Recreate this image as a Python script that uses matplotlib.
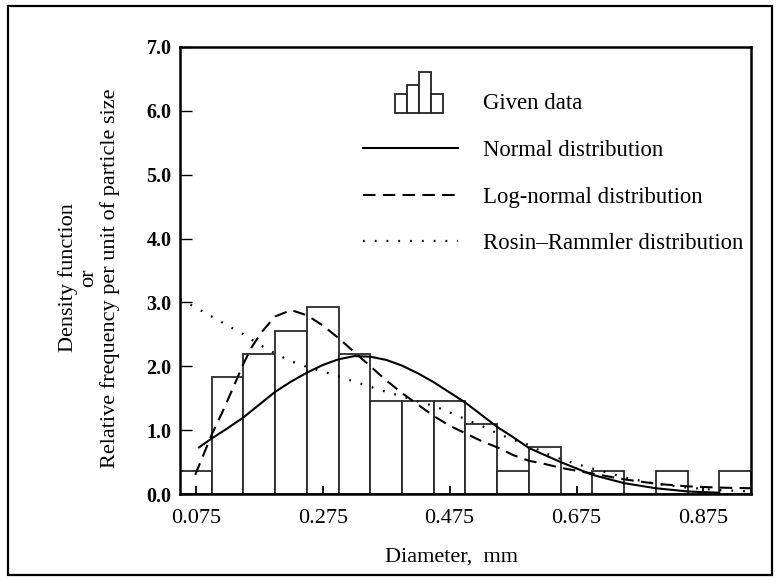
"""
Particle size distribution: histogram of given data with fitted
normal, log-normal and Rosin-Rammler density curves.
"""

import matplotlib
matplotlib.use("Agg")
import matplotlib.pyplot as plt
from matplotlib.patches import Rectangle
from matplotlib.legend_handler import HandlerBase

plt.rcParams['font.family'] = ['Liberation Serif', 'DejaVu Serif']

# histogram bins (left edges, mm) and relative frequency per unit size
bin_left = [0.05, 0.10, 0.15, 0.20, 0.25, 0.30, 0.35, 0.40, 0.45,
            0.50, 0.55, 0.60, 0.65, 0.70, 0.75, 0.80, 0.85, 0.90]
bin_height = [0.36, 1.83, 2.20, 2.56, 2.93, 2.20, 1.46, 1.46, 1.46,
              1.10, 0.36, 0.73, 0.0, 0.36, 0.0, 0.36, 0.0, 0.36]
bin_width = 0.05

# normal distribution curve
normal_x = [0.08, 0.10, 0.125, 0.15, 0.175, 0.20, 0.225, 0.25, 0.275, 0.30,
            0.325, 0.35, 0.375, 0.40, 0.425, 0.45, 0.475, 0.50, 0.525, 0.55,
            0.575, 0.60, 0.625, 0.65, 0.70, 0.75, 0.80, 0.85, 0.90]
normal_y = [0.73, 0.87, 1.03, 1.20, 1.40, 1.60, 1.76, 1.90, 2.02, 2.11,
            2.16, 2.15, 2.10, 2.01, 1.89, 1.75, 1.59, 1.43, 1.24, 1.05,
            0.89, 0.72, 0.61, 0.50, 0.30, 0.17, 0.09, 0.04, 0.02]

# log-normal distribution curve
lognorm_x = [0.074, 0.10, 0.118, 0.134, 0.15, 0.163, 0.179, 0.20, 0.225, 0.25,
             0.275, 0.30, 0.325, 0.35, 0.375, 0.40, 0.425, 0.45, 0.475, 0.50,
             0.525, 0.55, 0.575, 0.60, 0.625, 0.65, 0.70, 0.75, 0.80, 0.85,
             0.90, 0.95]
lognorm_y = [0.30, 0.93, 1.31, 1.67, 2.04, 2.30, 2.54, 2.78, 2.88, 2.80,
             2.64, 2.44, 2.22, 2.00, 1.78, 1.58, 1.40, 1.22, 1.07, 0.95,
             0.83, 0.73, 0.61, 0.52, 0.47, 0.41, 0.32, 0.23, 0.16, 0.12,
             0.10, 0.09]

# Rosin-Rammler distribution curve
rr_x = [0.05, 0.075, 0.10, 0.125, 0.15, 0.175, 0.20, 0.225, 0.25, 0.275,
        0.30, 0.325, 0.35, 0.375, 0.40, 0.425, 0.45, 0.475, 0.50, 0.525,
        0.55, 0.575, 0.60, 0.625, 0.65, 0.675, 0.70, 0.75, 0.80, 0.85,
        0.90, 0.95]
rr_y = [3.05, 2.92, 2.78, 2.64, 2.50, 2.34, 2.20, 2.08, 1.99, 1.92,
        1.84, 1.76, 1.68, 1.60, 1.53, 1.45, 1.38, 1.28, 1.17, 1.07,
        0.95, 0.85, 0.77, 0.64, 0.55, 0.47, 0.40, 0.26, 0.16, 0.10,
        0.06, 0.04]

x_ticks = [0.075, 0.275, 0.475, 0.675, 0.875]
y_ticks = [0.0, 1.0, 2.0, 3.0, 4.0, 5.0, 6.0, 7.0]

legend_labels = ['Given data', 'Normal distribution',
                 'Log-normal distribution', u'Rosin\u2013Rammler distribution']
icon_heights = [13.5, 20.0, 29.0, 13.0]   # legend icon bar heights, pt


class HistIconHandler(HandlerBase):
    """little 4-bar histogram used as legend key"""
    def create_artists(self, legend, orig_handle, xdescent, ydescent,
                       width, height, fontsize, trans):
        bw = 8.6
        x0 = -xdescent + width * 0.34
        y0 = -ydescent - 2.5
        arts = []
        for i, h in enumerate(icon_heights):
            r = Rectangle((x0 + i * bw, y0), bw, h, facecolor='white',
                          edgecolor='#222222', lw=1.3, transform=trans)
            arts.append(r)
        return arts


fig = plt.figure(figsize=(7.8, 5.81), dpi=100)
ax = fig.add_axes([180 / 780, 1 - 494 / 581, 571 / 780, 447 / 581])

bars = ax.bar(bin_left, bin_height, width=bin_width, align='edge',
              facecolor='white', edgecolor='#2a2a2a', linewidth=1.3, zorder=1)
l1, = ax.plot(normal_x, normal_y, color='black', lw=1.5, zorder=3)
l2, = ax.plot(lognorm_x, lognorm_y, color='black', lw=1.5,
              linestyle=(0, (6, 3.5)), zorder=3)
l3, = ax.plot(rr_x, rr_y, color='black', lw=1.6,
              linestyle=(0, (0.8, 4.5)), zorder=3)

ax.set_xlim(0.05, 0.95)
ax.set_ylim(0.0, 7.0)
ax.set_xticks(x_ticks)
ax.set_xticklabels(['%.3f' % v for v in x_ticks], fontsize=16)
ax.set_yticks(y_ticks)
ax.set_yticklabels(['%.1f' % v for v in y_ticks], fontsize=14.5,
                   fontweight='bold')
ax.tick_params(axis='x', direction='in', length=6, width=1.3, pad=11)
ax.tick_params(axis='y', direction='in', length=8.5, width=1.0, pad=6)
for sp in ax.spines.values():
    sp.set_linewidth(1.8)

fig.text(451 / 780, 1 - 557 / 581, 'Diameter,  mm', fontsize=16,
         ha='center', va='center')
fig.text(89 / 780, 1 - 278 / 581,
         'Density function\nor\nRelative frequency per unit of particle size',
         rotation=90, ha='center', va='center', fontsize=16,
         linespacing=1.12)

ax.legend([bars, l1, l2, l3], legend_labels,
          handler_map={type(bars): HistIconHandler()},
          loc='upper left', bbox_to_anchor=(0.3205, 0.897),
          frameon=False, fontsize=16.4, borderpad=0, borderaxespad=0,
          handlelength=4.18, handletextpad=1.1, labelspacing=1.13)

# outer box round the whole figure
fig.patches.append(Rectangle((8 / 780, 6 / 581), 764 / 780, 569 / 581,
                             transform=fig.transFigure, fill=False,
                             lw=1.6, edgecolor='black'))

fig.savefig('out.png', dpi=100)
